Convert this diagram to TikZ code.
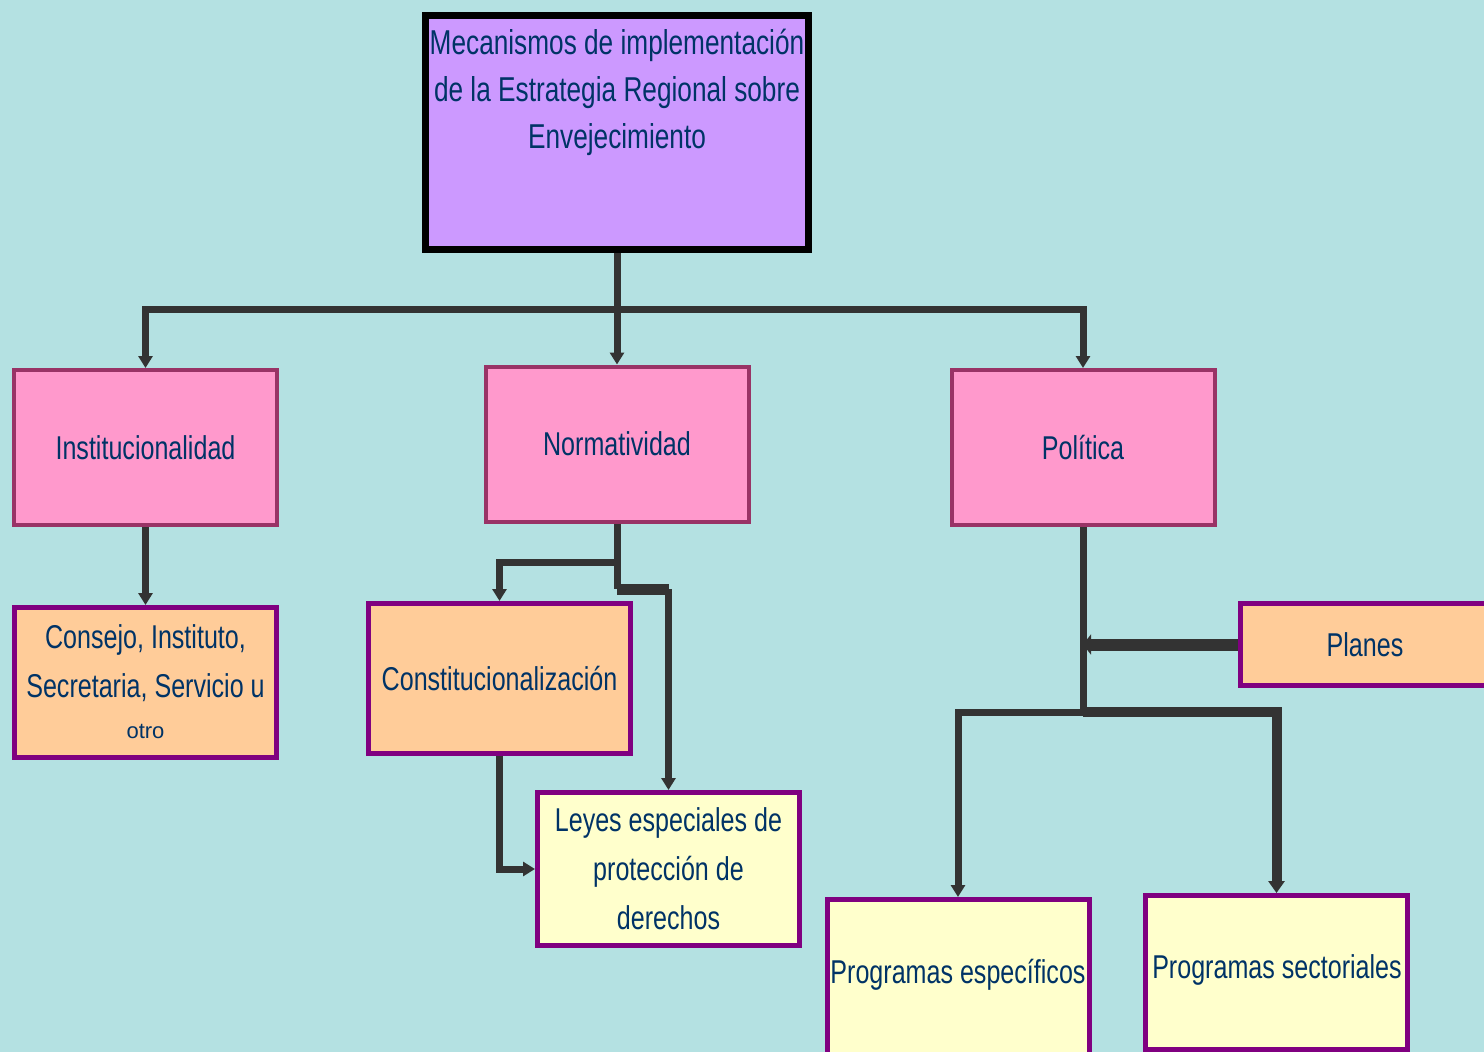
\documentclass[tikz,border=0pt]{standalone}
\usepackage{fontspec}
\setmainfont{Liberation Sans}[FakeStretch=0.76]
\newfontfamily\plainfont{Liberation Sans}
\usetikzlibrary{arrows.meta}
\definecolor{bgC}{HTML}{B4E1E2}
\definecolor{topF}{HTML}{CC99FF}
\definecolor{pinkF}{HTML}{FF99CC}
\definecolor{pinkD}{HTML}{993366}
\definecolor{orF}{HTML}{FFCC99}
\definecolor{purD}{HTML}{800080}
\definecolor{yelF}{HTML}{FFFFCC}
\definecolor{txtC}{HTML}{003366}
\definecolor{lineC}{HTML}{333333}
\begin{document}
\begin{tikzpicture}[x=1pt,y=-1pt,
  box/.style={rectangle, inner sep=0pt, align=center, text=txtC, font=\fontsize{33}{49}\selectfont},
  topbox/.style={box, draw=black, fill=topF, line width=7pt, minimum width=383pt, minimum height=234pt},
  pinkbox/.style={box, draw=pinkD, fill=pinkF, line width=4pt, minimum width=263pt, minimum height=155pt},
  orbox/.style={box, draw=purD, fill=orF, line width=5pt, minimum width=262pt, minimum height=150pt},
  yelbox/.style={box, draw=purD, fill=yelF, line width=5pt, minimum width=262pt, minimum height=153pt},
  lbl/.style={align=center, text=txtC, inner sep=0pt, font=\fontsize{33}{49}\selectfont},
  conn/.style={draw=lineC, line width=7pt},
  arr/.style={-{Triangle[width=14pt,length=12pt]}}
]
\useasboundingbox (0,0) rectangle (1484,1052);
\clip (0,0) rectangle (1484,1052);
\fill[bgC] (0,0) rectangle (1484,1052);

% boxes
\node[topbox] (top) at (617,132.5) {};
\node[lbl, font=\fontsize{34.5}{47}\selectfont] (toptxt) at (617,92)
  {Mecanismos de implementación\\de la Estrategia Regional sobre\\Envejecimiento};

\node[pinkbox] (inst) at (145.5,447.5) {Institucionalidad};
\node[pinkbox] (norm) at (617,444) {Normatividad};
\node[pinkbox] (pol) at (1083,447.5) {Política};

\node[orbox] (cons) at (145.5,682.5) {};
\node[lbl] (constxt) at (145.5,682) {Consejo, Instituto,\\Secretaria, Servicio u\\[-8pt]{\plainfont\fontsize{22}{26}\selectfont otro}};
\node[orbox] (const) at (499.5,678.5) {Constitucionalización};
\node[orbox, minimum width=249pt, minimum height=82pt] (planes) at (1365,644.5) {Planes};

\node[yelbox] (leyes) at (668.5,869) {Leyes especiales de\\protección de\\derechos};
\node[yelbox, minimum height=158pt] (pesp) at (958,978.5) {};
\node[lbl] (pesptxt) at (958,975) {Programas específicos};
\node[yelbox, minimum height=154pt] (psec) at (1276.5,972.5) {};
\node[lbl] (psectxt) at (1277,970) {Programas sectoriales};

% connectors
\coordinate (jt) at (617,309);
\draw[conn] (top.south) -- (jt);
\draw[conn,arr] (jt) -| (inst.north);
\draw[conn,arr] (jt) -- (norm.north);
\draw[conn,arr] (jt) -| (pol.north);

\draw[conn,arr] (inst.south) -- (cons.north);

\coordinate (jn) at (617,562);
\coordinate (jl) at (617,589);
\coordinate (jl2) at (668.5,589);
\draw[conn] (norm.south) -- (jl);
\draw[conn,arr] (jn) -| (const.north);
\draw[conn, line width=11pt] (jl) -- (jl2);
\draw[conn,arr] (jl2) -- (leyes.north);
\draw[conn,arr] (const.south) |- (leyes.west);

\coordinate (jp) at (1083,712);
\draw[conn] (pol.south) -- (jp);
\draw[conn,arr] (jp) -| (pesp.north);
\draw[conn, line width=10pt, -{Triangle[width=16pt,length=12pt]}] (jp) -| (psec.north);
\draw[conn, line width=12pt, -{Triangle[width=20pt,length=8pt]}] (planes.west) -- (planes.west -| pol.south);
\end{tikzpicture}
\end{document}
